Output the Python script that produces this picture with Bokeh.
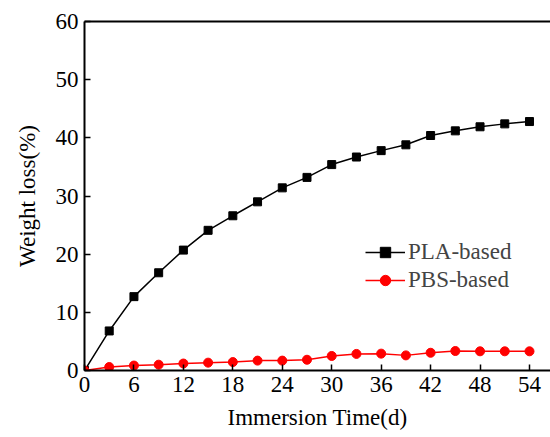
from bokeh.plotting import figure
from bokeh.models import Legend, LegendItem, LinearAxis, FixedTicker, Range1d
from bokeh.embed import file_html
from bokeh.resources import INLINE

days = [0, 3, 6, 9, 12, 15, 18, 21, 24, 27, 30, 33, 36, 39, 42, 45, 48, 51, 54]
pla = [0, 6.8, 12.7, 16.8, 20.7, 24.1, 26.6, 29.0, 31.4, 33.2, 35.4, 36.7, 37.8,
       38.8, 40.4, 41.2, 41.9, 42.4, 42.8]
pbs = [0, 0.6, 0.85, 1.0, 1.2, 1.35, 1.45, 1.7, 1.7, 1.85, 2.5, 2.85, 2.9,
       2.6, 3.05, 3.35, 3.3, 3.3, 3.3]
x_ticks = [0, 6, 12, 18, 24, 30, 36, 42, 48, 54]
y_ticks = [0, 10, 20, 30, 40, 50, 60]

FONT = "Liberation Serif"
FS = "23px"

p = figure(width=550, height=437, output_backend="svg", toolbar_location=None,
           x_range=Range1d(0, 56.55), y_range=Range1d(0, 60),
           min_border_left=84, min_border_right=0, min_border_top=21,
           min_border_bottom=67, x_axis_label="Immersion Time(d)",
           y_axis_label="Weight loss(%)")
p.grid.visible = False
p.outline_line_color = None
p.background_fill_color = "white"
p.border_fill_color = "white"

for ax in (p.xaxis[0], p.yaxis[0]):
    ax.axis_line_width = 2
    ax.axis_line_color = "black"
    ax.major_tick_in = 6
    ax.major_tick_out = 0
    ax.major_tick_line_width = 1.5
    ax.minor_tick_line_color = None
    ax.major_label_text_font = FONT
    ax.major_label_text_font_size = FS
    ax.major_label_text_color = "black"
    ax.axis_label_text_font = FONT
    ax.axis_label_text_font_size = FS
    ax.axis_label_text_font_style = "normal"
    ax.axis_label_text_color = "black"
    ax.major_label_standoff = 6

p.xaxis[0].ticker = FixedTicker(ticks=x_ticks)
p.yaxis[0].ticker = FixedTicker(ticks=y_ticks)
p.xaxis[0].major_label_standoff = 6
p.xaxis[0].axis_label_standoff = 10
p.yaxis[0].axis_label_standoff = 13

top = LinearAxis(ticker=FixedTicker(ticks=[]), major_label_text_font_size="0px",
                 axis_line_width=2, axis_line_color="black",
                 major_tick_line_color=None, minor_tick_line_color=None)
p.add_layout(top, "above")

l1 = p.line(days, pla, line_color="black", line_width=1.5)
m1 = p.scatter(days, pla, marker="square", size=8, fill_color="black", line_color="black")
l2 = p.line(days, pbs, line_color="#ff0000", line_width=1.5)
m2 = p.scatter(days, pbs, marker="circle", size=9, fill_color="#ff0000", line_color="#ff0000")

legend = Legend(items=[LegendItem(label="PLA-based", renderers=[l1, m1]),
                       LegendItem(label="PBS-based", renderers=[l2, m2])],
                location=(281, 77), border_line_color=None, background_fill_alpha=0,
                label_text_font=FONT, label_text_font_size=FS,
                glyph_width=40, glyph_height=26, label_height=26,
                spacing=2, padding=0, margin=0, label_standoff=3)
p.add_layout(legend)

open("out.html", "w").write(file_html(p, INLINE))
